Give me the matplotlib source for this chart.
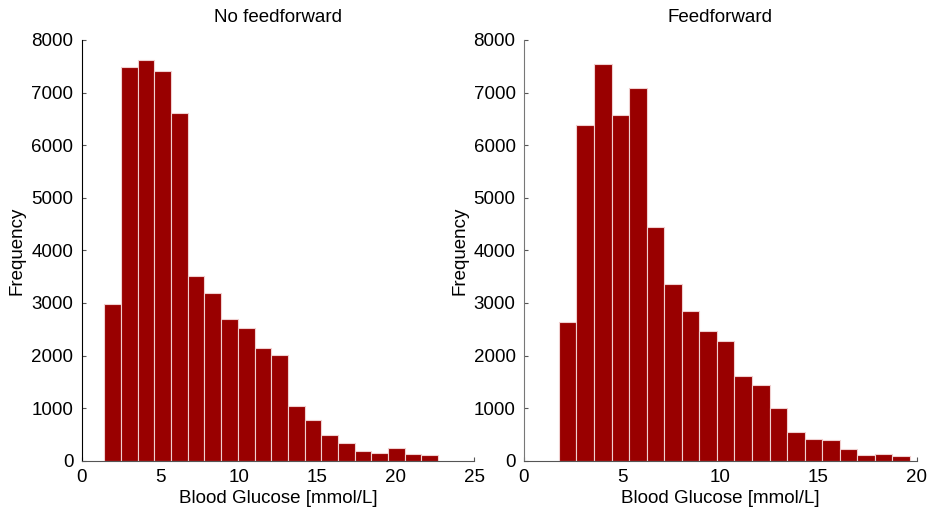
import numpy as np
import matplotlib
matplotlib.use("Agg")
import matplotlib.pyplot as plt

plt.rcParams['font.family'] = ['Liberation Sans', 'DejaVu Sans']

# Left panel: No feedforward (20 bins)
nf_min, nf_max = 1.44, 22.7
nf_counts = [2974, 7480, 7619, 7410, 6617, 3512, 3183, 2689, 2529, 2149,
             2010, 1034, 780, 483, 343, 191, 153, 248, 127, 102]

# Right panel: Feedforward (20 bins)
ff_min, ff_max = 1.78, 19.66
ff_counts = [2637, 6377, 7537, 6580, 7093, 4444, 3366, 2840, 2466, 2282,
             1611, 1439, 1002, 552, 418, 394, 217, 114, 133, 95]

titles = ["No feedforward", "Feedforward"]
xlabel = "Blood Glucose [mmol/L]"
ylabel = "Frequency"
yticks = [0, 1000, 2000, 3000, 4000, 5000, 6000, 7000, 8000]
xticks_left = [0, 5, 10, 15, 20, 25]
xticks_right = [0, 5, 10, 15, 20]

fig = plt.figure(figsize=(9.29, 5.12), dpi=100)
ax1 = fig.add_axes([0.0879, 0.1002, 0.4226, 0.8217])
ax2 = fig.add_axes([0.564, 0.1002, 0.4227, 0.8217])

FS = 13.5

def draw(ax, vmin, vmax, counts, title, xticks, left_color):
    n = len(counts)
    edges = np.linspace(vmin, vmax, n + 1)
    w = edges[1] - edges[0]
    ax.bar(edges[:-1], counts, width=w, align='edge', color='#990000',
           edgecolor='#f0d0d0', linewidth=0.8, zorder=2)
    ax.set_xlim(xticks[0], xticks[-1])
    ax.set_ylim(0, 8000)
    ax.set_yticks(yticks)
    ax.set_xticks(xticks)
    ax.set_title(title, fontsize=FS, pad=13)
    ax.set_xlabel(xlabel, fontsize=FS, labelpad=3)
    ax.set_ylabel(ylabel, fontsize=FS, labelpad=4)
    ax.spines['top'].set_visible(False)
    ax.spines['right'].set_visible(False)
    ax.spines['left'].set_color(left_color)
    ax.spines['bottom'].set_color('#555555')
    ax.spines['left'].set_linewidth(0.8)
    ax.spines['bottom'].set_linewidth(0.8)
    ax.tick_params(direction='in', length=3, width=0.8, labelsize=FS,
                   colors='#555555', labelcolor='black', pad=6)

draw(ax1, nf_min, nf_max, nf_counts, titles[0], xticks_left, 'black')
draw(ax2, ff_min, ff_max, ff_counts, titles[1], xticks_right, '#777777')

fig.savefig("out.png", dpi=100)
